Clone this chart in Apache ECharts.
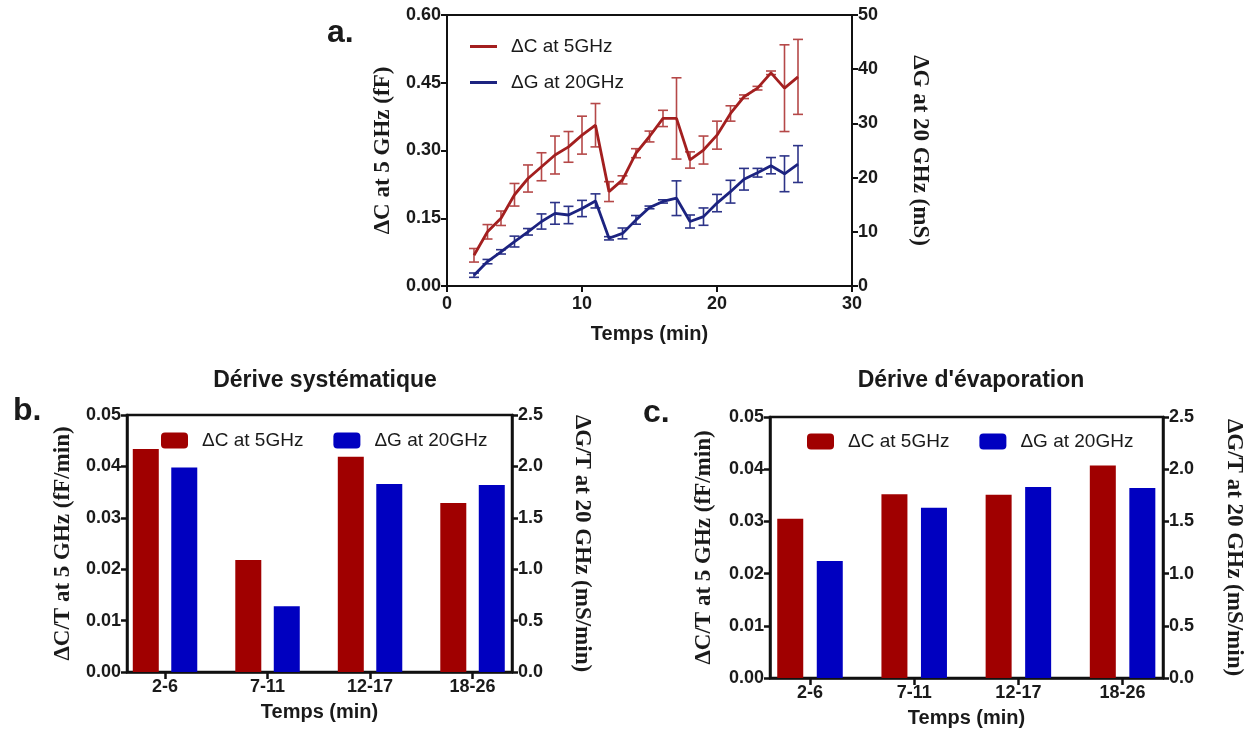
<!DOCTYPE html>
<html>
<head>
<meta charset="utf-8">
<script src="https://cdn.jsdelivr.net/npm/echarts@6/dist/echarts.min.js"></script>
<style>
  html, body { margin: 0; padding: 0; background: #fff; }
  #main { width: 1255px; height: 740px; }
</style>
</head>
<body>
<div id="main"></div>
<script>
var myChart = echarts.init(document.getElementById('main'));

// panel a: drift over time
var minutes = [2, 3, 4, 5, 6, 7, 8, 9, 10, 11, 12, 13, 14, 15, 16, 17, 18, 19, 20, 21, 22, 23, 24, 25, 26];
var deltaC = [0.068, 0.120, 0.150, 0.202, 0.238, 0.264, 0.290, 0.308, 0.334, 0.356, 0.209, 0.235, 0.294, 0.331, 0.371, 0.371, 0.279, 0.301, 0.334, 0.382, 0.419, 0.438, 0.472, 0.438, 0.463];
var deltaCErr = [0.015, 0.016, 0.016, 0.025, 0.030, 0.031, 0.042, 0.034, 0.042, 0.048, 0.022, 0.009, 0.010, 0.012, 0.018, 0.090, 0.018, 0.031, 0.031, 0.017, 0.004, 0.004, 0.004, 0.096, 0.083];
var deltaG = [2.0, 4.5, 6.3, 8.2, 10.0, 11.9, 13.4, 13.1, 14.3, 15.7, 8.8, 9.7, 12.2, 14.5, 15.6, 16.2, 11.9, 12.8, 15.3, 17.4, 19.7, 20.9, 22.2, 20.7, 22.5];
var deltaGErr = [0.4, 0.4, 0.4, 1.0, 0.6, 1.4, 2.0, 1.6, 1.5, 1.3, 0.3, 1.0, 0.8, 0.25, 0.3, 3.2, 1.2, 1.6, 1.6, 2.1, 2.0, 0.8, 1.5, 3.3, 3.4];

// panels b and c: slopes per period
var periods = ['2-6', '7-11', '12-17', '18-26'];
var sysC = [0.0434, 0.0218, 0.0419, 0.0329];
var sysG = [1.99, 0.64, 1.83, 1.82];
var evapC = [0.0305, 0.0352, 0.0351, 0.0407];
var evapG = [1.12, 1.63, 1.83, 1.82];

var labelC = 'ΔC at 5GHz';
var labelG = 'ΔG at 20GHz';

var RED = '#a31f1f', BLUE = '#1c2380';
var RED_ERR = '#b54848', BLUE_ERR = '#2c3388';
var BAR_RED = '#a00000', BAR_BLUE = '#0000c0';

var sans = 'Arial, "Liberation Sans", sans-serif';
var serif = '"Times New Roman", "Liberation Serif", serif';
var ink = '#1a1a1a';

function errData(xs, ys, es) {
    return xs.map(function (x, i) { return [x, ys[i] - es[i], ys[i] + es[i]]; });
}

function errorBars(color) {
    return function (params, api) {
        var x = api.value(0);
        var top = api.coord([x, api.value(2)]);
        var bot = api.coord([x, api.value(1)]);
        var st = { stroke: color, lineWidth: 1.6 };
        return {
            type: 'group',
            children: [
                { type: 'line', shape: { x1: top[0], y1: top[1], x2: bot[0], y2: bot[1] }, style: st },
                { type: 'line', shape: { x1: top[0] - 5, y1: top[1], x2: top[0] + 5, y2: top[1] }, style: st },
                { type: 'line', shape: { x1: bot[0] - 5, y1: bot[1], x2: bot[0] + 5, y2: bot[1] }, style: st }
            ]
        };
    };
}

function axisCommon(lw) {
    return {
        axisLine: { show: true, onZero: false, lineStyle: { color: '#111', width: lw } },
        axisTick: { show: true, inside: false, length: 6, lineStyle: { color: '#111', width: lw } },
        splitLine: { show: false },
        axisLabel: { color: ink, fontFamily: sans, fontWeight: 'bold', fontSize: 18, margin: 6 }
    };
}

function yAxisDef(grid, pos, min, max, interval, digits, name, gap, lw) {
    var a = axisCommon(lw);
    a.type = 'value';
    a.gridIndex = grid;
    a.position = pos;
    a.min = min;
    a.max = max;
    a.interval = interval;
    a.axisLabel.formatter = function (v) { return v.toFixed(digits); };
    a.name = name;
    a.nameLocation = 'middle';
    a.nameRotate = pos === 'left' ? 90 : -90;
    a.nameGap = gap;
    a.nameTextStyle = { color: ink, fontFamily: serif, fontWeight: 'bold', fontSize: 23 };
    return a;
}

function barXAxis(grid, min, max) {
    var a = axisCommon(2.5);
    a.type = 'value';
    a.gridIndex = grid;
    a.min = min;
    a.max = max;
    a.axisTick.customValues = [0, 1, 2, 3];
    a.axisTick.length = 7;
    a.axisLabel.customValues = [0, 1, 2, 3];
    a.axisLabel.formatter = function (v) { return periods[Math.round(v)]; };
    a.name = 'Temps (min)';
    a.nameLocation = 'middle';
    a.nameGap = 30;
    a.nameTextStyle = { color: ink, fontFamily: sans, fontWeight: 'bold', fontSize: 20 };
    return a;
}

var topX = axisCommon(2);
topX.type = 'value';
topX.gridIndex = 0;
topX.min = 0;
topX.max = 30;
topX.interval = 10;
topX.axisLabel.margin = 9;
topX.name = 'Temps (min)';
topX.nameLocation = 'middle';
topX.nameGap = 38;
topX.nameTextStyle = { color: ink, fontFamily: sans, fontWeight: 'bold', fontSize: 20 };

var legendText = { color: ink, fontFamily: sans, fontSize: 19, padding: [0, 0, 0, 9] };

option = {
    backgroundColor: '#fff',
    animation: false,
    title: [
        { text: 'a.', left: 322, top: 12, textStyle: { fontSize: 32, fontWeight: 'bold', color: ink, fontFamily: sans } },
        { text: 'b.', left: 8, top: 390, textStyle: { fontSize: 32, fontWeight: 'bold', color: ink, fontFamily: sans } },
        { text: 'c.', left: 638, top: 392, textStyle: { fontSize: 32, fontWeight: 'bold', color: ink, fontFamily: sans } },
        { text: 'Dérive systématique', left: 320, top: 364, textAlign: 'center', textStyle: { fontSize: 23, fontWeight: 'bold', color: ink, fontFamily: sans } },
        { text: "Dérive d'évaporation", left: 966, top: 364, textAlign: 'center', textStyle: { fontSize: 23, fontWeight: 'bold', color: ink, fontFamily: sans } }
    ],
    legend: [
        {
            data: ['a-C', 'a-G'],
            orient: 'vertical',
            left: 465, top: 32,
            icon: 'rect',
            itemWidth: 27, itemHeight: 3, itemGap: 17,
            formatter: function (n) { return n === 'a-C' ? labelC : labelG; },
            textStyle: legendText
        },
        {
            data: ['b-C', 'b-G'],
            left: 156, top: 426,
            itemWidth: 27, itemHeight: 16, itemGap: 30,
            formatter: function (n) { return n === 'b-C' ? labelC : labelG; },
            textStyle: legendText
        },
        {
            data: ['c-C', 'c-G'],
            left: 802, top: 427,
            itemWidth: 27, itemHeight: 16, itemGap: 30,
            formatter: function (n) { return n === 'c-C' ? labelC : labelG; },
            textStyle: legendText
        }
    ],
    grid: [
        { left: 447, top: 15, width: 405, height: 271, show: true, borderColor: '#111', borderWidth: 2, backgroundColor: 'transparent' },
        { left: 127, top: 415, width: 385, height: 257, show: true, borderColor: '#111', borderWidth: 2.5, backgroundColor: 'transparent' },
        { left: 770, top: 417, width: 393, height: 261, show: true, borderColor: '#111', borderWidth: 2.5, backgroundColor: 'transparent' }
    ],
    xAxis: [
        topX,
        barXAxis(1, -0.371, 3.385),
        barXAxis(2, -0.384, 3.388)
    ],
    yAxis: [
        yAxisDef(0, 'left', 0, 0.6, 0.15, 2, 'ΔC at 5 GHz (fF)', 52, 2),
        yAxisDef(0, 'right', 0, 50, 10, 0, 'ΔG at 20 GHz (mS)', 56, 2),
        yAxisDef(1, 'left', 0, 0.05, 0.01, 2, 'ΔC/T at 5 GHz (fF/min)', 52, 2.5),
        yAxisDef(1, 'right', 0, 2.5, 0.5, 1, 'ΔG/T at 20 GHz (mS/min)', 58, 2.5),
        yAxisDef(2, 'left', 0, 0.05, 0.01, 2, 'ΔC/T at 5 GHz (fF/min)', 54, 2.5),
        yAxisDef(2, 'right', 0, 2.5, 0.5, 1, 'ΔG/T at 20 GHz (mS/min)', 59, 2.5)
    ],
    series: [
        {
            type: 'custom', name: 'errC', xAxisIndex: 0, yAxisIndex: 0,
            renderItem: errorBars(RED_ERR), encode: { x: 0, y: [1, 2] },
            data: errData(minutes, deltaC, deltaCErr), z: 1
        },
        {
            type: 'custom', name: 'errG', xAxisIndex: 0, yAxisIndex: 1,
            renderItem: errorBars(BLUE_ERR), encode: { x: 0, y: [1, 2] },
            data: errData(minutes, deltaG, deltaGErr), z: 1
        },
        {
            type: 'line', name: 'a-C', xAxisIndex: 0, yAxisIndex: 0,
            data: minutes.map(function (m, i) { return [m, deltaC[i]]; }),
            symbol: 'none', color: RED, itemStyle: { color: RED }, lineStyle: { color: RED, width: 2.8 }, z: 3
        },
        {
            type: 'line', name: 'a-G', xAxisIndex: 0, yAxisIndex: 1,
            data: minutes.map(function (m, i) { return [m, deltaG[i]]; }),
            symbol: 'none', color: BLUE, itemStyle: { color: BLUE }, lineStyle: { color: BLUE, width: 2.8 }, z: 3
        },
        {
            type: 'bar', name: 'b-C', xAxisIndex: 1, yAxisIndex: 2,
            data: periods.map(function (p, i) { return [i, sysC[i]]; }),
            barWidth: 26, barGap: '48%', itemStyle: { color: BAR_RED }
        },
        {
            type: 'bar', name: 'b-G', xAxisIndex: 1, yAxisIndex: 3,
            data: periods.map(function (p, i) { return [i, sysG[i]]; }),
            barWidth: 26, barGap: '48%', itemStyle: { color: BAR_BLUE }
        },
        {
            type: 'bar', name: 'c-C', xAxisIndex: 2, yAxisIndex: 4,
            data: periods.map(function (p, i) { return [i, evapC[i]]; }),
            barWidth: 26, barGap: '52%', itemStyle: { color: BAR_RED }
        },
        {
            type: 'bar', name: 'c-G', xAxisIndex: 2, yAxisIndex: 5,
            data: periods.map(function (p, i) { return [i, evapG[i]]; }),
            barWidth: 26, barGap: '52%', itemStyle: { color: BAR_BLUE }
        }
    ]
};
myChart.setOption(option);
</script>
</body>
</html>
